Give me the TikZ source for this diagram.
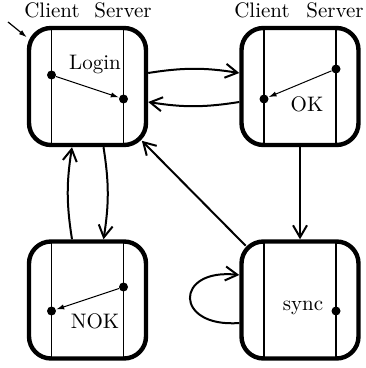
\documentclass[tikz,border=0pt]{standalone}
\usetikzlibrary{arrows.meta,calc}
\begin{document}
\begin{tikzpicture}[x=0.5pt,y=0.5pt,
  state/.style={draw, line width=2.2pt, rounded corners=11pt, minimum width=58.5pt, minimum height=58.5pt, inner sep=0pt},
  lane/.style={line width=0.6pt},
  dot/.style={circle, fill, inner sep=0pt, minimum size=4.5pt},
  msg/.style={line width=0.5pt, -{Latex[length=4pt,width=2.6pt]}},
  trans/.style={line width=1pt, -{Straight Barb[length=6pt,width=7pt]}},
  lbl/.style={font=\fontsize{10.5}{12}\selectfont, inner sep=0pt}]
\useasboundingbox (0,0) rectangle (365,368);

% states
\node[state] (login) at (87.5,281.5) {};
\node[state] (ok) at (300,281.5) {};
\node[state] (nok) at (87.5,68) {};
\node[state] (sync) at (300,68) {};

% lanes
\foreach \b in {login,ok,nok,sync}{
  \draw[lane] ($(\b.north)+(-36,-2.2)$) -- ($(\b.south)+(-36,2.2)$);
  \draw[lane] ($(\b.north)+(36,-2.2)$) -- ($(\b.south)+(36,2.2)$);
}

% headers
\node[lbl] (c1) at (52,358) {Client};
\node[lbl] (s1) at (123,358) {Server};
\node[lbl] (c2) at (262,358) {Client};
\node[lbl] (s2) at (335,358) {Server};

% state labels
\node[lbl] (tlogin) at (95,304) {Login};
\node[lbl] (tok) at (307,264) {OK};
\node[lbl] (tnok) at (95,47) {NOK};
\node[lbl] (tsync) at (303,60) {sync};

% messages
\node[dot] (lc) at (51.5,293) {};
\node[dot] (ls) at (123.5,269) {};
\draw[msg] (lc) -- (ls);
\node[dot] (os) at (336,299) {};
\node[dot] (oc) at (264,269) {};
\draw[msg] (os) -- (oc);
\node[dot] (ns) at (123.5,81) {};
\node[dot] (nc) at (51.5,57) {};
\draw[msg] (ns) -- (nc);
\node[dot] (ss) at (336,57) {};

% initial
\coordinate (init) at (8,346);
\draw[msg, line width=0.6pt] (init) -- (login);

% transitions
\draw[trans] ($(login.east)+(0,13.5)$) to[bend left=9] ($(ok.west)+(0,13.5)$);
\draw[trans] ($(ok.west)+(0,-15.5)$) to[bend left=9] ($(login.east)+(0,-15.5)$);
\draw[trans] ($(nok.north)+(-15.5,0)$) to[bend left=9] ($(login.south)+(-15.5,0)$);
\draw[trans] ($(login.south)+(16,0)$) to[bend left=9] ($(nok.north)+(16,0)$);
\draw[trans] (ok) -- (sync);
\draw[trans, shorten <=-4.5pt, shorten >=-4.5pt] (sync.north west) -- (login.south east);
\draw[trans] ($(sync.west)+(0,-23)$) .. controls (174,40) and (174,100) .. ($(sync.west)+(0,25)$);
\end{tikzpicture}
\end{document}
